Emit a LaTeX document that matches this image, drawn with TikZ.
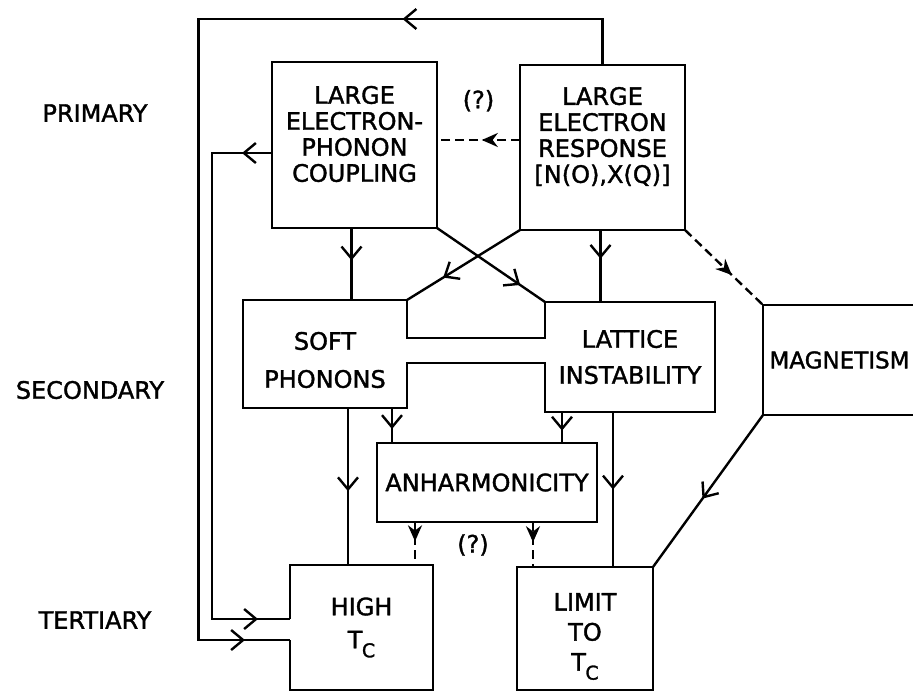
\documentclass[tikz,border=0pt]{standalone}
\usepackage{fontspec}
\setmainfont{DejaVu Sans}[FakeBold=1.5]
\usepackage{tikz}
\usetikzlibrary{positioning, calc, arrows.meta, decorations.markings}

\newcommand{\tcrit}{T\kern-0.5pt\raisebox{-9pt}{\fontsize{19}{19}\selectfont C}}

\begin{document}
\begin{tikzpicture}[x=1pt, y=-1pt, line width=2.4pt,
  font=\fontsize{24}{26}\selectfont,
  plain/.style={inner sep=0pt, outer sep=0pt, align=center},
  box/.style={plain, draw},
  arr/.style={postaction={decorate, decoration={markings,
      mark=at position #1 with {\arrow{Straight Barb[length=12pt, width=20pt]}}}}},
  darr/.style={dash pattern=on 9pt off 5pt, postaction={decorate, decoration={markings,
      mark=at position #1 with {\arrow{Stealth[length=16pt, width=14pt]}}}}}]
\useasboundingbox (0,0) rectangle (913,691);

% row labels
\node (primary) at (95,113) {PRIMARY};
\node (secondary) at (90,390) {SECONDARY};
\node (tertiary) at (95,620) {TERTIARY};

% boxes
\node[box, minimum width=165pt, minimum height=166pt,
  label={[align=center, yshift=11pt]center:LARGE\\ELECTRON-\\PHONON\\COUPLING}] (coupling) at (354.5,145) {};
\node[box, minimum width=165pt, minimum height=165pt,
  label={[align=center, yshift=11pt]center:LARGE\\ELECTRON\\RESPONSE\\{}[N(O),X(Q)]}] (response) at (602.5,147.5) {};
\node[plain, minimum width=164pt, minimum height=108pt,
  label={[align=center, yshift=-6pt]center:SOFT\\[12pt]PHONONS}] (soft) at (325,354) {};
\node[plain, minimum width=170pt, minimum height=110pt] (lattice) at (630,357) {LATTICE\\[10pt]INSTABILITY};
\node[box, minimum width=165pt, minimum height=110pt, font=\fontsize{23}{26}\selectfont,
  label={[font=\fontsize{23}{26}\selectfont, xshift=-6pt]center:MAGNETISM}] (magnet) at (845.5,360) {};
\node[box, minimum width=220pt, minimum height=79pt] (anharm) at (487,482.5) {ANHARMONICITY};
\node[plain, minimum width=143pt, minimum height=125pt] (high) at (361.5,627.5) {HIGH\\[7pt]\tcrit};
\node[box, minimum width=136pt, minimum height=123pt,
  label={[align=center, yshift=-8pt]center:LIMIT\\[4pt]TO\\[4pt]\tcrit}] (limit) at (585,628.5) {};

% soft phonons and lattice instability joined
\coordinate (chanT) at (476,338);
\coordinate (chanB) at (476,363);
\draw (soft.north west) -- (soft.north east) -- (soft.east |- chanT) -- (lattice.west |- chanT)
  -- (lattice.north west) -- (lattice.north east) -- (lattice.south east) -- (lattice.south west)
  -- (lattice.west |- chanB) -- (soft.east |- chanB) -- (soft.south east) -- (soft.south west) -- cycle;

% high Tc box, open where the feedback lines enter
\coordinate (hiA) at ($(high.west)+(0,-8.5)$);
\coordinate (hiB) at ($(high.west)+(0,12.5)$);
\draw (hiA) -- (high.north west) -- (high.north east) -- (high.south east) -- (high.south west) -- (hiB);

% feedback lines
\draw[arr=246pt, arr=-45pt] (response.north) -- ++(0,-46) -- ++(-404,0) |- (hiB);
\draw[arr=30pt, arr=-32pt] ($(coupling.west)+(0,8)$) -- ++(-60,0) |- (hiA);

% primary -> secondary
\draw[darr=0.46] ($(response.west)+(0,-7.5)$) -- ($(coupling.east)+(0,-5)$)
  node[midway, above=24pt] (q1) {(?)};
\draw[arr=0.45] ($(coupling.south)+(-3,0)$) -- ($(coupling.south |- soft.north)+(-3,0)$);
\draw[arr=0.4] ($(response.south)+(-2,0)$) -- ($(response.south |- lattice.north)+(-2,0)$);
\draw[arr=0.77] (coupling.south east) -- (lattice.north west);
\draw[arr=0.68] (response.south west) -- (soft.north east);
\draw[darr=0.6] (response.south east) -- (magnet.north west);

% secondary -> tertiary
\draw[arr=0.55] (magnet.south west) -- (limit.north east);
\draw[arr=0.53] ($(soft.south)+(23,0)$) -- ($(soft.south |- high.north)+(23,0)$);
\draw[arr=0.6] ($(soft.south)+(67,0)$) -- ($(soft.south |- anharm.north)+(67,0)$);
\draw[arr=0.6] ($(lattice.south)+(-68,0)$) -- ($(lattice.south |- anharm.north)+(-68,0)$);
\draw[arr=0.5] ($(lattice.south)+(-17,0)$) -- ($(lattice.south |- limit.north)+(-17,0)$);
\draw[darr=0.45] ($(anharm.south)+(-72,0)$) -- ($(anharm.south |- high.north)+(-72,0)$);
\draw[darr=0.45] ($(anharm.south)+(46,0)$) -- ($(anharm.south |- limit.north)+(46,0)$);
\node (q2) at (473,545) {(?)};
\end{tikzpicture}
\end{document}
